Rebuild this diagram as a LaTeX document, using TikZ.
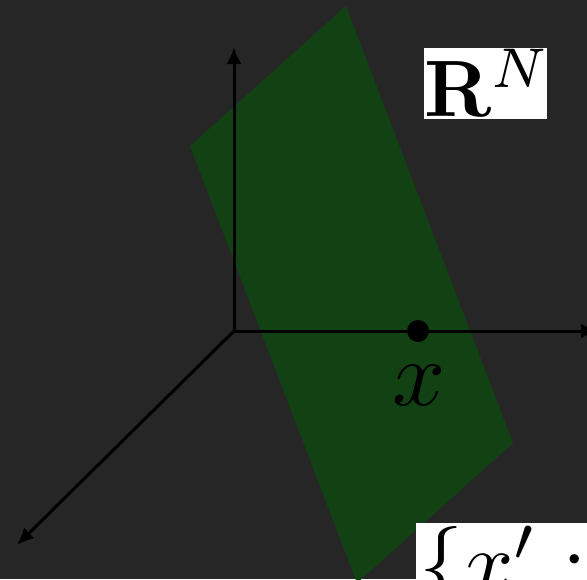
\documentclass[tikz,border=0pt]{standalone}
\usepackage{amsmath}
\usepackage{graphicx}
\usetikzlibrary{arrows.meta}
\definecolor{bgcol}{RGB}{38,38,38}
\definecolor{planecol}{RGB}{18,66,20}

\begin{document}
\begin{tikzpicture}[x=1pt, y=-1pt, >={Latex[length=17pt,width=15pt]},
    axis/.style={->, line width=3pt, black},
    lbl/.style={fill=white, text=black, inner sep=0pt}]
  \useasboundingbox (0,0) rectangle (587,579);
  \clip (0,0) rectangle (587,579);
  \fill[bgcol] (0,0) rectangle (587,579);
  % the plane through x
  \fill[planecol] (346,6) -- (190,146) -- (357,583) -- (513,443) -- cycle;
  % axes
  \coordinate (O) at (234,331);
  \coordinate (up) at (234,47);
  \coordinate (right) at (598,331);
  \coordinate (front) at (17,545);
  \draw[axis] (O) -- (up);
  \draw[axis] (O) -- (right);
  \draw[axis] (O) -- (front);
  % the point and labels
  \node[circle, fill=black, inner sep=0pt, minimum size=22pt] (xpt) at (418,331) {};
  \node[inner sep=0pt] (xlbl) at (419,385) {\scalebox{9.3}{$x$}};
  \node[lbl, inner ysep=2pt, anchor=south west] (space) at (424,119)
    {\scalebox{7.8}[8]{$\scriptspace=0pt\mathbf{R}^{N}$}};
  \node[lbl, inner sep=3pt, anchor=north west] (set) at (416,523) {\scalebox{8.8}{$\{x' :$}};
\end{tikzpicture}
\end{document}
